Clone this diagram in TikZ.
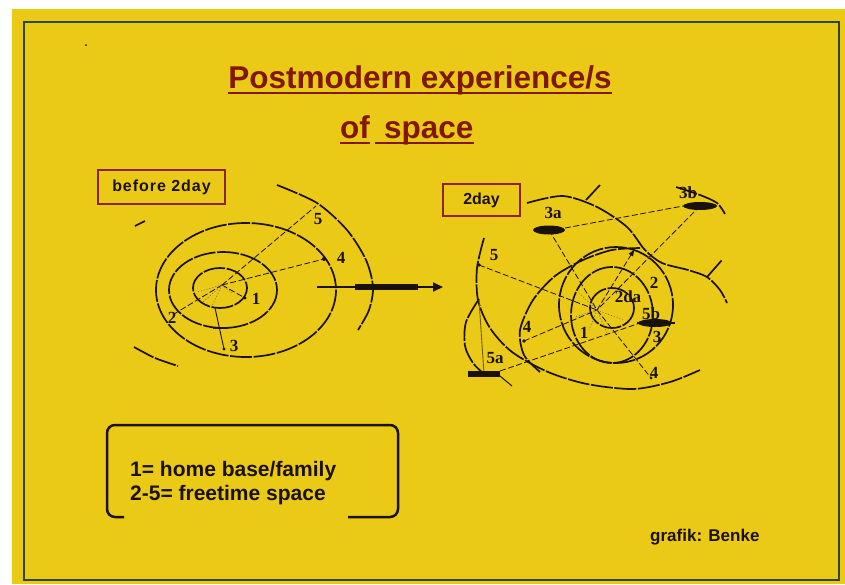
\documentclass[tikz,border=0pt]{standalone}
\usepackage{fontspec}
\setmainfont{Liberation Sans}
\newfontfamily\numfont{Liberation Serif}
\usetikzlibrary{arrows.meta,calc}
\definecolor{bgyellow}{HTML}{EBC917}
\definecolor{framegreen}{HTML}{2E4A14}
\definecolor{titlered}{HTML}{801800}
\definecolor{boxred}{HTML}{8A2515}
\definecolor{ink}{HTML}{1A1208}
\begin{document}
\begin{tikzpicture}[x=1pt,y=-1pt,
  ring/.style={ink, line width=1.7pt, dash pattern=on 22pt off 1.6pt},
  ray/.style={ink, line width=0.8pt, dash pattern=on 6pt off 2.5pt},
  dots/.style={ink!70, line width=0.5pt, dash pattern=on 1pt off 2pt},
  num/.style={font=\numfont\bfseries\fontsize{17}{17}\selectfont, text=ink, inner sep=0pt},
  titlefont/.style={font=\bfseries\fontsize{31.5}{31.5}\selectfont, text=titlered, inner sep=0pt},
  tagbox/.style={draw=boxred, line width=2.5pt, inner sep=0pt, text=ink}]
\useasboundingbox (0,0) rectangle (845,584);
\fill[white] (0,0) rectangle (845,584);
\fill[bgyellow] (12,9) rectangle (845,584);
\draw[framegreen, line width=2.5pt] (24,22) rectangle (839,580);
\fill[ink] (86,45) circle (1);
% title
\node[titlefont, anchor=base] (title) at (420,88) {Postmodern experience/s};
\draw[titlered, line width=2.5pt] ($(title.base west)+(0,5)$) -- ($(title.base east)+(0,5)$);
\node[titlefont, anchor=base west] (subof) at (340,138) {of};
\node[titlefont, anchor=base west] (subspace) at (384,138) {space};
\draw[titlered, line width=2.5pt] ($(subof.base west)+(0,5)$) -- ($(subof.base east)+(0,5)$);
\draw[titlered, line width=2.5pt] ($(subof.base east)+(5,5)$) -- ($(subspace.base east)+(0,5)$);
% tag boxes
\node[tagbox, minimum width=127pt, minimum height=34pt, font=\bfseries\fontsize{16}{16}\selectfont\addfontfeature{LetterSpace=6}] (before) at (161.5,187) {before 2day};
\node[tagbox, minimum width=77pt, minimum height=32pt, font=\bfseries\fontsize{16}{16}\selectfont] (today) at (481.5,200) {2day\hspace{18pt}};
% ===== left diagram =====
\coordinate (Lc) at (222,285);
\draw[ring] (220,288) ellipse [x radius=27, y radius=20];
\draw[ring] (223,290) ellipse [x radius=54, y radius=38];
\draw[ring] (246,290) ellipse [x radius=90, y radius=67];
\draw[ring] plot[smooth] coordinates {(277,185) (317,203) (347,230) (366,260) (373,287) (369,310) (358,330)};
\draw[ring] plot[smooth] coordinates {(134,347) (155,358) (178,366)};
\draw[ring] (135,226) -- (145,221);
\coordinate (L5) at (316,206);
\coordinate (L4) at (324,259);
\coordinate (L1) at (245,298);
\coordinate (L2) at (174,314);
\coordinate (L3a) at (215,308);
\coordinate (L3) at (224,349);
\draw[ray] (Lc) -- (L5);
\draw[ray] (Lc) -- (L4);
\draw[ray] (Lc) -- (L1);
\draw[ray] (Lc) -- (L2);
\draw[ink, line width=0.9pt] (L3a) -- (L3);
\draw[ink, line width=1.4pt] (213,328) -- (228,328);
\draw[dots] (Lc) -- (197,292);
\draw[dots] (Lc) -- (203,302);
\draw[dots] (Lc) -- (212,306);
\draw[dots] (Lc) -- (232,293);
\fill[ink] (L4) circle (2);
\fill[ink] (L1) circle (1.7);
\fill[ink] (L3) circle (1.7);
\node[num] (l5) at (318,219) {5};
\node[num] (l4) at (341,258) {4};
\node[num] (l1) at (256,299) {1};
\node[num] (l2) at (172,318) {2};
\node[num] (l3) at (234,346) {3};
% arrow
\coordinate (a0) at (317,287);
\coordinate (a1) at (355,287);
\coordinate (a2) at (418,287);
\coordinate (a3) at (443,287);
\draw[ink, line width=1.8pt] (a0) -- (a1);
\draw[ink, line width=5.5pt] (a1) -- (a2);
\draw[ink, line width=1.8pt, -{Triangle[length=10pt,width=9pt]}] (a2) -- (a3);
% ===== right diagram =====
\coordinate (Rc) at (597,310);
\draw[ring] (612,308) ellipse [x radius=22, y radius=20];
\draw[ring] (612,315) ellipse [x radius=41, y radius=48];
\draw[ring] (616,305) ellipse [x radius=57, y radius=58];
\draw[ring] plot[smooth] coordinates {(640,248) (612,250) (583,260) (555,276) (533,300) (520,330) (524,355) (540,372)};
\draw[ring] plot[smooth] coordinates {(527,203) (563,196) (597,207) (627,227) (645,250) (662,263) (688,270) (707,277) (720,290) (727,303)};
\draw[ring] (707,277) -- (722,260);
\draw[ring] (586,200) -- (600,185);
\draw[ring] plot[smooth] coordinates {(676,187) (700,195) (717,203) (725,214)};
\draw[ring] plot[smooth] coordinates {(484,238) (477,268) (478,300) (490,328) (512,352) (548,372) (587,384) (633,389) (670,382) (700,370)};
\draw[ring] plot[smooth] coordinates {(479,299) (466,322) (465,346) (473,363) (483,373)};
\coordinate (R5) at (479,265);
\coordinate (R5top) at (479,300);
\coordinate (R3a) at (549,230);
\coordinate (R3b) at (700,206);
\coordinate (R5a) at (484,374);
\coordinate (R5b) at (655,323);
\coordinate (R4l) at (524,341);
\coordinate (R4r) at (651,378);
\coordinate (R2) at (634,250);
\draw[ink!60!bgyellow, line width=0.9pt] (R5top) -- (R5a);
\draw[ray] (R5) -- (Rc);
\draw[ray] ($(R3a)+(16,-2)$) -- ($(R3b)+(-17,0)$);
\draw[ray] (R3a) -- (Rc);
\draw[ray] (R3b) -- (Rc);
\draw[ray] ($(R5a)+(16,-3)$) -- ($(R5b)+(-15,0)$);
\draw[ray] (Rc) -- (R4r);
\draw[ray] (R4l) -- (Rc);
\draw[ray, -{Triangle[length=6pt,width=5pt]}] (Rc) -- (R2);
\draw[dots] (Rc) -- (579,293);
\draw[dots] (Rc) -- (575,317);
\draw[dots] (Rc) -- (589,330);
\draw[dots] (Rc) -- (607,333);
\draw[dots] (Rc) -- (623,320);
\fill[ink] (R3a) ellipse [x radius=16, y radius=4.5];
\fill[ink] (R3b) ellipse [x radius=17, y radius=4];
\fill[ink] (R5b) ellipse [x radius=17, y radius=4];
\draw[ink, line width=1.5pt] ($(R5b)+(-18,0)$) -- ($(R5b)+(20,0)$);
\fill[ink] ($(R5a)+(-16,-3)$) rectangle ($(R5a)+(16,3)$);
\draw[ink, line width=1pt] ($(R5a)+(16,2)$) -- ($(R5a)+(28,12)$);
\fill[ink] (R5) circle (1.8);
\fill[ink] (R4l) circle (1.8);
\fill[ink] (R4r) circle (1.5);
\node[num] (r3a) at (553,213) {3a};
\node[num] (r3b) at (688,193) {3b};
\node[num] (r5) at (494,255) {5};
\node[num] (r5a) at (495,358) {5a};
\node[num] (r4l) at (527,327) {4};
\node[num] (r1) at (584,333) {1};
\node[num] (r2da) at (628,297) {2da};
\node[num] (r2) at (654,283) {2};
\node[num] (r5b) at (651,314) {5b};
\node[num] (r3) at (657,337) {3};
\node[num] (r4r) at (654,373) {4};
% legend
\draw[ink, line width=2.5pt, rounded corners=8pt] (124,517) -- (107,517) -- (107,425) -- (398,425) -- (398,517) -- (348,517);
\node[font=\bfseries\fontsize{21}{21}\selectfont, text=ink, anchor=base west, inner sep=0pt] (leg1) at (130,476) {1= home base/family};
\node[font=\bfseries\fontsize{21}{21}\selectfont, text=ink, anchor=base west, inner sep=0pt] (leg2) at (130,500) {2-5= freetime space};
\node[font=\bfseries\fontsize{17}{17}\selectfont, text=ink, anchor=base west, inner sep=0pt] (credit) at (650,541) {grafik: Benke};
\end{tikzpicture}
\end{document}
